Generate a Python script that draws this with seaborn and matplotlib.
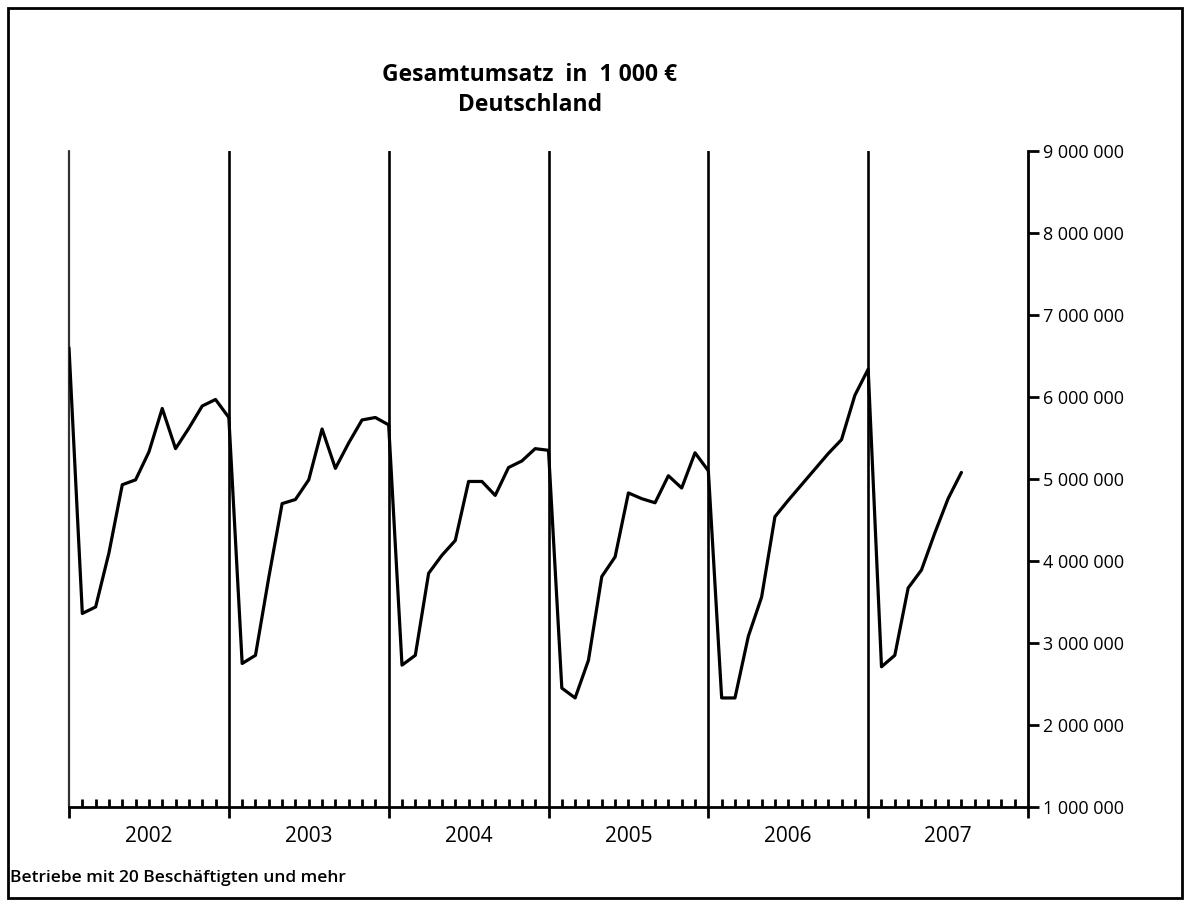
import numpy as np
import pandas as pd
import seaborn as sns
import matplotlib.pyplot as plt
from matplotlib.patches import Rectangle
from matplotlib.ticker import FuncFormatter, MultipleLocator

plt.switch_backend('agg')

# Gesamtumsatz in 1 000 EUR, monatlich (Dez 2001 bis Jul 2007)
umsatz = [
    6600000,
    3360000, 3440000, 4100000, 4930000, 4990000, 5330000,
    5860000, 5370000, 5620000, 5890000, 5970000, 5750000,
    2750000, 2850000, 3800000, 4700000, 4750000, 4990000,
    5610000, 5130000, 5440000, 5720000, 5750000, 5660000,
    2730000, 2850000, 3850000, 4070000, 4250000, 4970000,
    4970000, 4800000, 5140000, 5220000, 5370000, 5350000,
    2450000, 2330000, 2790000, 3810000, 4050000, 4830000,
    4760000, 4710000, 5040000, 4890000, 5320000, 5100000,
    2330000, 2330000, 3080000, 3560000, 4540000, 4740000,
    4930000, 5120000, 5310000, 5480000, 6020000, 6340000,
    2710000, 2850000, 3670000, 3890000, 4340000, 4760000,
    5080000,
]
jahre = ['2002', '2003', '2004', '2005', '2006', '2007']
y_ticks = [1000000, 2000000, 3000000, 4000000, 5000000, 6000000, 7000000, 8000000, 9000000]

df = pd.DataFrame({'monat': np.arange(len(umsatz)), 'umsatz': umsatz})

sns.set_theme(style='white')
plt.rcParams['font.family'] = ['Open Sans', 'DejaVu Sans']
plt.rcParams['text.color'] = 'black'
plt.rcParams['ytick.color'] = 'black'
plt.rcParams['xtick.color'] = 'black'

fig = plt.figure(figsize=(11.85, 9.05), dpi=100)
ax = fig.add_axes([69 / 1185, 1 - 807 / 905, (1028 - 69) / 1185, (807 - 151) / 905])

# Jahresgrenzen
ax.axvline(0, color='#333333', linewidth=1.6, zorder=1, clip_on=False)
for i in range(1, len(jahre)):
    ax.axvline(12 * i, color='black', linewidth=1.9, zorder=1)

sns.lineplot(data=df, x='monat', y='umsatz', color='black', linewidth=2.3, ax=ax, zorder=3)

ax.set_xlim(0, 12 * len(jahre))
ax.set_ylim(y_ticks[0], y_ticks[-1])
ax.set_xlabel('')
ax.set_ylabel('')

for s in ['left', 'top']:
    ax.spines[s].set_visible(False)
ax.spines['right'].set_linewidth(2)
ax.spines['bottom'].set_linewidth(2)
ax.spines['right'].set_color('black')
ax.spines['bottom'].set_color('black')

ax.yaxis.tick_right()
ax.set_yticks(y_ticks)
ax.yaxis.set_major_formatter(FuncFormatter(lambda v, p: '{:,.0f}'.format(v).replace(',', ' ')))
ax.tick_params(axis='y', which='major', direction='out', length=8, width=2, color='black',
               labelsize=13, pad=3, right=True, left=False)

ax.set_xticks(range(0, 12 * len(jahre) + 1, 12))
ax.set_xticklabels([])
ax.xaxis.set_minor_locator(MultipleLocator(1))
ax.tick_params(axis='x', which='major', direction='out', length=8, width=2, color='black', bottom=True)
ax.tick_params(axis='x', which='minor', direction='in', length=6, width=2, color='black', bottom=True)

for i, jahr in enumerate(jahre):
    ax.text(12 * i + 6, -0.045, jahr, transform=ax.get_xaxis_transform(),
            ha='center', va='center', fontsize=15)

fig.text(530 / 1185, 1 - 75 / 905, 'Gesamtumsatz  in  1 000 €', ha='center', va='center',
         fontsize=16.5, fontweight='bold')
fig.text(530 / 1185, 1 - 105 / 905, 'Deutschland', ha='center', va='center',
         fontsize=16.5, fontweight='bold')
fig.text(10 / 1185, 1 - 878 / 905, 'Betriebe mit 20 Beschäftigten und mehr', ha='left', va='center',
         fontsize=12.5, fontweight='semibold')

fig.patches.append(Rectangle((8 / 1185, 1 - 898 / 905), (1182 - 8) / 1185, (898 - 8) / 905,
                             transform=fig.transFigure, fill=False, edgecolor='black', linewidth=2))

fig.savefig('out.png', dpi=100, facecolor='white')
plt.close(fig)
